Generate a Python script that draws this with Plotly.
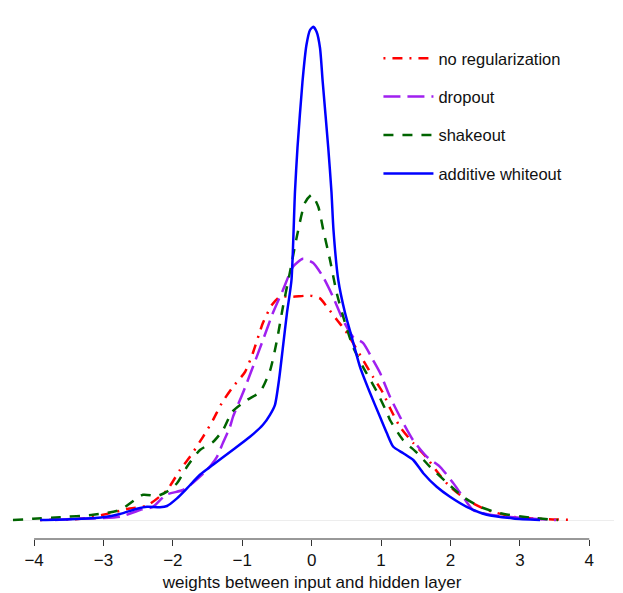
import plotly.graph_objects as go

# density estimates of the weights
x_noreg = [-3.915, -3.339, -3.007, -2.618, -2.373, -2.085, -1.898, -1.754, -1.566, -1.422,
           -1.293, -1.134, -0.961, -0.846, -0.702, -0.572, -0.457, -0.269, -0.024, 0.120,
           0.220, 0.365, 0.480, 0.595, 0.739, 0.883, 1.027, 1.128, 1.272, 1.460,
           1.661, 1.820, 1.993, 2.238, 2.526, 2.901, 3.390, 3.765]
y_noreg = [0.000, 0.003, 0.013, 0.029, 0.036, 0.075, 0.125, 0.158, 0.208, 0.250,
           0.293, 0.333, 0.370, 0.418, 0.493, 0.538, 0.558, 0.558, 0.561, 0.554,
           0.533, 0.500, 0.475, 0.443, 0.400, 0.358, 0.318, 0.280, 0.233, 0.193,
           0.155, 0.118, 0.083, 0.050, 0.025, 0.008, 0.002, 0.000]

x_dropout = [-3.699, -3.526, -2.762, -2.474, -2.287, -2.099, -1.854, -1.710, -1.509, -1.365,
             -1.278, -1.177, -1.134, -0.990, -0.846, -0.702, -0.558, -0.414, -0.269, -0.125,
             0.019, 0.163, 0.307, 0.451, 0.595, 0.739, 0.883, 0.984, 1.128, 1.272,
             1.460, 1.661, 1.849, 2.036, 2.180, 2.324, 2.569, 3.146, 3.520]
y_dropout = [0.000, 0.002, 0.008, 0.025, 0.033, 0.063, 0.075, 0.093, 0.125, 0.158,
             0.193, 0.233, 0.258, 0.318, 0.383, 0.450, 0.518, 0.575, 0.633, 0.653,
             0.643, 0.608, 0.558, 0.500, 0.458, 0.443, 0.400, 0.368, 0.308, 0.258,
             0.200, 0.158, 0.133, 0.093, 0.058, 0.025, 0.013, 0.004, 0.000]

x_shakeout = [-4.304, -4.016, -3.627, -3.151, -2.762, -2.431, -2.229, -2.085, -1.941, -1.797,
              -1.610, -1.422, -1.278, -1.148, -0.932, -0.745, -0.601, -0.500, -0.414, -0.313,
              -0.212, -0.097, 0.000, 0.095, 0.167, 0.264, 0.360, 0.480, 0.595, 0.739,
              0.941, 1.085, 1.128, 1.316, 1.517, 1.705, 1.950, 2.180, 2.425, 2.713,
              3.146, 3.549]
y_shakeout = [0.000, 0.003, 0.007, 0.013, 0.025, 0.063, 0.060, 0.071, 0.092, 0.133,
              0.175, 0.195, 0.225, 0.270, 0.300, 0.320, 0.373, 0.450, 0.533, 0.620,
              0.710, 0.793, 0.813, 0.783, 0.725, 0.650, 0.568, 0.493, 0.433, 0.383,
              0.320, 0.268, 0.250, 0.200, 0.168, 0.133, 0.093, 0.058, 0.033, 0.017,
              0.006, 0.000]

x_whiteout = [-3.915, -3.483, -3.007, -2.762, -2.517, -2.373, -2.186, -2.085, -1.941, -1.797,
              -1.610, -1.422, -1.177, -0.889, -0.702, -0.601, -0.529, -0.471, -0.414, -0.356,
              -0.291, -0.241, -0.205, -0.133, -0.075, -0.024, 0.023, 0.072, 0.120, 0.159,
              0.239, 0.285, 0.314, 0.383, 0.480, 0.576, 0.696, 0.840, 0.984, 1.081,
              1.176, 1.320, 1.464, 1.608, 1.801, 1.993, 2.233, 2.522, 2.905, 3.290]
y_whiteout = [0.000, 0.002, 0.007, 0.015, 0.028, 0.033, 0.032, 0.035, 0.054, 0.079,
              0.113, 0.138, 0.170, 0.208, 0.238, 0.263, 0.288, 0.350, 0.433, 0.518,
              0.600, 0.820, 0.930, 1.095, 1.188, 1.225, 1.233, 1.220, 1.180, 1.095,
              0.930, 0.820, 0.725, 0.600, 0.518, 0.458, 0.383, 0.318, 0.258, 0.218,
              0.183, 0.167, 0.150, 0.117, 0.083, 0.058, 0.033, 0.013, 0.004, 0.000]

x_ticks = [-4, -3, -2, -1, 0, 1, 2, 3, 4]

series = [
    ("no regularization", x_noreg, y_noreg, "#FF0000", "2px,7px,10px,7px"),
    ("dropout", x_dropout, y_dropout, "#A020F0", "17px,7px"),
    ("shakeout", x_shakeout, y_shakeout, "#006400", "10px,9px"),
    ("additive whiteout", x_whiteout, y_whiteout, "#0000FF", "solid"),
]

fig = go.Figure()
for name, xs, ys, color, dash in series:
    fig.add_trace(go.Scatter(
        x=xs, y=ys, name=name, legendgroup=name,
        mode="lines", line=dict(color=color, width=2.5, dash=dash, shape="spline", smoothing=0.6),
    ))

font = "Liberation Sans, Arial, sans-serif"

# the page body adds an 8px offset, so margins are trimmed to compensate
fig.update_layout(
    width=623, height=593,
    margin=dict(l=2, r=17, t=0, b=62),
    paper_bgcolor="white", plot_bgcolor="white",
    font=dict(family=font, size=17, color="#111"),
    xaxis=dict(
        range=[-4.347, 4.356], tickvals=x_ticks, ticktext=[str(v).replace("-", "\u2212") for v in x_ticks],
        showgrid=False, zeroline=False, showline=False,
        ticks="outside", ticklen=6, tickcolor="#333", tickwidth=1,
        tickfont=dict(size=17, color="#111"),
        title=dict(text="weights between input and hidden layer", font=dict(size=17, color="#111"), standoff=6),
    ),
    yaxis=dict(
        range=[-0.0475, 1.28], showgrid=False, showticklabels=False, ticks="",
        zeroline=True, zerolinecolor="#EDEDED", zerolinewidth=1, showline=False,
    ),
    legend=dict(
        x=0.610, y=0.938, xanchor="left", yanchor="top",
        font=dict(size=16.5, color="#111"), itemwidth=50,
        tracegroupgap=14, bgcolor="rgba(0,0,0,0)",
    ),
    shapes=[dict(type="line", xref="x", yref="paper", x0=x_ticks[0], x1=x_ticks[-1], y0=0, y1=0,
                 line=dict(color="#333", width=1))],
)

fig.write_html("out.html")
